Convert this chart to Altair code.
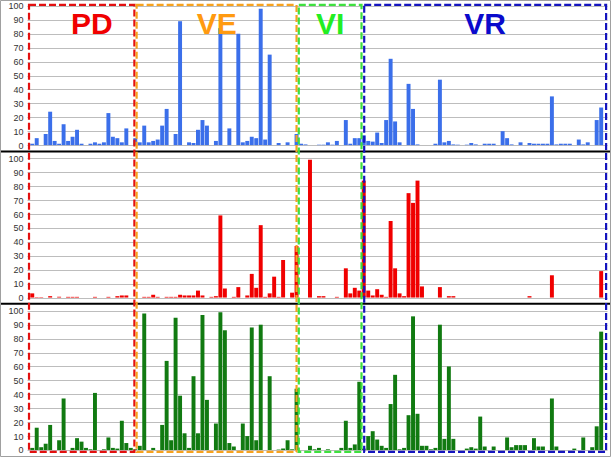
import altair as alt
import pandas as pd

# ---- data ----
blue_vals = [1, 5, 0, 8, 24, 3, 1, 15, 3, 6, 11, 1, 0, 1, 2, 1, 2, 23, 6, 5, 2, 12, 0, 5,
             2, 14, 2, 3, 4, 14, 26, 0, 8, 89, 0, 2, 1.5, 11, 18, 14, 0, 3, 84, 0, 12, 0, 80, 2, 3, 6,
             5, 98, 4, 65, 0, 1.5, 0, 2, 0, 8,
             1, 0.5, 0, 0, 0.3, 0.3, 2, 0.3, 3, 0, 18, 1, 5, 5,
             7, 3, 2.5, 9, 1.5, 18, 62, 17, 2, 0, 44, 26, 0.5, 0, 0, 0, 1, 47, 2, 3, 0.5, 0.3, 0, 0.3,
             1.5, 0.5, 0, 1, 1, 1, 0, 10, 5, 0.5, 0, 2, 0, 1.5, 1, 1, 1, 1, 35, 0.5, 1, 1, 1, 0, 4,
             0.5, 2, 0, 18, 27]
red_vals = [3, 0.3, 0.3, 0, 1, 0, 0.5, 0, 0.5, 0.5, 0.5, 0, 0, 0, 0.5, 0, 0, 0.5, 0, 1, 1.5, 1.5, 0, 0,
            0, 0.5, 0.5, 2, 0.5, 0, 0.5, 0.5, 0.5, 2, 1.5, 1.5, 1.5, 5, 1.5, 0, 0.5, 1, 59, 6.5, 0, 0.5,
            7.5, 0, 1.5, 17, 7, 52, 0.5, 3, 15, 0.5, 27, 0, 3.5, 37,
            0, 0, 99, 0, 1, 1, 0, 0, 0.5, 0, 21, 3, 7, 5,
            84, 5, 1.5, 6, 2, 0.5, 55, 21, 3, 1, 75, 68, 84, 8, 0, 0, 0, 7.5, 0, 1, 1, 0, 0, 0,
            0, 0, 0, 0, 0, 0, 0, 0, 0, 0, 0, 0, 0, 1, 0, 0, 0, 0, 16, 0, 0, 0, 0, 0, 0, 0, 0, 0, 0, 19]
green_vals = [1.5, 16, 2, 4.5, 18, 0, 7, 37, 0, 1.5, 8.5, 6, 1.5, 0.5, 41, 0, 0.5, 9, 1.5, 1, 21, 5, 1.5, 0.5,
              3, 98, 0, 1.5, 0, 18, 64, 7, 95, 39, 12, 1.5, 53, 12, 97, 36, 0, 19, 99, 86, 5, 2.5, 0, 19,
              10, 88, 7, 90, 0, 53, 0, 0.3, 1, 7, 0.5, 44,
              0, 0, 3, 0.5, 1.5, 0, 0.5, 0, 0, 1.5, 21, 1.5, 4, 49,
              1, 10, 13.5, 7.5, 3, 1.5, 33, 54, 0.5, 1.5, 25, 96, 26, 3, 3, 0.5, 1.5, 90, 8, 60, 8, 0,
              0, 1, 2, 1, 24, 2.5, 0, 2.5, 0, 0, 9, 2, 3.5, 3.5, 3.5, 0, 8.5, 2.5, 2.5, 0, 37, 2.5,
              0, 0, 0, 1, 0, 9, 0, 2, 17, 85]

panels = ["blue", "red", "green"]
panel_base = [219, 109.5, 0]
panel_colors = ["#3B6FEA", "#F00000", "#117A11"]

regions = ["PD", "VE", "VI", "VR"]
region_start = [-0.22, 23.8, 60.0, 74.6]
region_end = [23.3, 59.5, 74.0, 128.6]
region_colors = ["#E31010", "#F7A21E", "#3EE03E", "#1414BE"]
label_colors = ["#F00000", "#FF9A10", "#22EE22", "#0A0ACC"]
label_x = [13.8, 41.7, 67.0, 101.6]

separators = [214.5, 105]

# ---- tables ----
rows = []
for name, base, vals in zip(panels, panel_base, [blue_vals, red_vals, green_vals]):
    for i, v in enumerate(vals):
        rows.append({"panel": name, "xa": i + 0.06, "xb": i + 0.94, "ya": base, "yb": base + v})
bars_df = pd.DataFrame(rows)

box_df = pd.DataFrame({"region": regions, "xa": region_start, "xb": region_end,
                       "ya": [-1.4] * 4, "yb": [319.7] * 4})
lab_df = pd.DataFrame({"region": regions, "xa": label_x, "ya": [305.5] * 4})
sep_df = pd.DataFrame({"ya": separators})

tick_vals = [b + 10 * k for b in panel_base for k in range(11)]

xs = alt.Scale(domain=[-0.67, 128.8], nice=False, zero=False)
ys = alt.Scale(domain=[-3.6, 321.8], nice=False, zero=False)
y_axis = alt.Axis(values=tick_vals,
                  labelExpr="datum.value >= 219 ? datum.value - 219 : (datum.value >= 109.5 ? datum.value - 109.5 : datum.value)",
                  grid=True, gridColor="#bdbdbd", gridWidth=1, domain=False, ticks=False,
                  labelFontSize=9, labelColor="#333333", labelFont="Liberation Sans",
                  labelPadding=4, title=None)

bars = alt.Chart(bars_df).mark_rect().encode(
    x=alt.X("xa:Q", scale=xs, axis=None), x2="xb:Q",
    y=alt.Y("ya:Q", scale=ys, axis=y_axis), y2="yb:Q",
    color=alt.Color("panel:N", scale=alt.Scale(domain=panels, range=panel_colors), legend=None),
)

seps = alt.Chart(sep_df).mark_rule(color="black", strokeWidth=2).encode(
    y=alt.Y("ya:Q", scale=ys, axis=y_axis),
    x=alt.value(-27), x2=alt.value(584),
)

boxes = alt.Chart(box_df).mark_rect(fillOpacity=0, strokeWidth=2.2, strokeDash=[7, 3]).encode(
    x=alt.X("xa:Q", scale=xs, axis=None), x2="xb:Q",
    y=alt.Y("ya:Q", scale=ys, axis=y_axis), y2="yb:Q",
    stroke=alt.Stroke("region:N", scale=alt.Scale(domain=regions, range=region_colors), legend=None),
)

labels = alt.Chart(lab_df).mark_text(fontSize=30, fontWeight="bold", font="Liberation Sans",
                                     baseline="middle", align="center").encode(
    x=alt.X("xa:Q", scale=xs, axis=None),
    y=alt.Y("ya:Q", scale=ys, axis=y_axis),
    fill=alt.Fill("region:N", scale=alt.Scale(domain=regions, range=label_colors), legend=None),
    text="region:N",
)

frame = alt.Chart(pd.DataFrame({"a": [0]})).mark_rect(fillOpacity=0, stroke="#a0a0a0", strokeWidth=1).encode(
    x=alt.value(-26.5), x2=alt.value(583.5), y=alt.value(-1.5), y2=alt.value(454.5),
)

chart = alt.layer(bars, seps, boxes, labels, frame).resolve_scale(
    color="independent", fill="independent", stroke="independent"
).properties(
    width=580, height=453,
    autosize=alt.AutoSizeParams(type="none"),
    padding={"left": 27, "top": 2, "right": 4, "bottom": 2},
    background="white",
).configure_view(strokeWidth=0)

chart.save("out.html", embed_options={"renderer": "svg", "actions": False})
